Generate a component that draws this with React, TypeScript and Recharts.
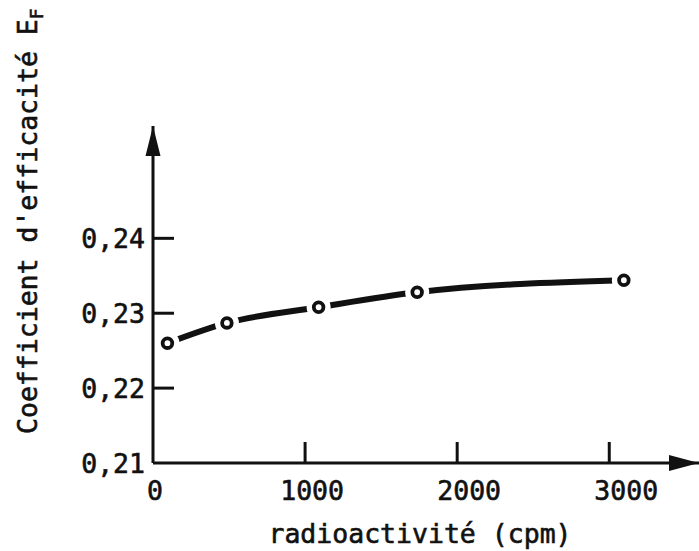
import React from 'react';
import {
  ComposedChart,
  Line,
  Scatter,
  XAxis,
  YAxis,
  ReferenceDot,
  Label,
} from 'recharts';

// values
const radioactivity = [95, 486, 1089, 1737, 3096];
const efficiency = [0.226, 0.2287, 0.2308, 0.2328, 0.2344];
const xTicks = [0, 1000, 2000, 3000];
const yTicks = [0.21, 0.22, 0.23, 0.24];
const xTitle = 'radioactivité (cpm)';
const yTitle = "Coefficient d'efficacité E";
const ySubscript = 'F';

const data = radioactivity.map((x, i) => ({ x, y: efficiency[i] }));

const FONT = '"DejaVu Sans Mono", monospace';
const INK = '#111';
const PAPER = 'rgb(255,255,255)';

const formatComma = (v: number) => v.toFixed(2).replace('.', ',');

const textStyle = {
  fontFamily: FONT,
  fontSize: 26.5,
  fill: INK,
  stroke: INK,
  strokeWidth: 0.6,
};

// ticks drawn inward, labels outside
const XTick = ({ x, y, payload }: any) => {
  const v = payload.value;
  return (
    <g>
      {v !== 0 && <line x1={x} y1={y} x2={x} y2={y - 21} stroke={INK} strokeWidth={3} />}
      <text x={x + 2 + v / 200} y={y + 37} textAnchor="middle" {...textStyle}>
        {v}
      </text>
    </g>
  );
};

const YTick = ({ x, y, payload }: any) => {
  const v = payload.value;
  return (
    <g>
      {v > 0.215 && <line x1={x} y1={y} x2={x + 21} y2={y} stroke={INK} strokeWidth={3} />}
      <text x={x - 8} y={y + 10} textAnchor="end" {...textStyle}>
        {formatComma(v)}
      </text>
    </g>
  );
};

// white halo leaves the gap seen around each circle in the original
function HollowDot(props: any) {
  const { cx, cy } = props;
  if (cx == null || cy == null) return null;
  return (
    <g>
      <circle cx={cx} cy={cy} r={12} style={{ fill: PAPER, stroke: 'none' }} />
      <circle cx={cx} cy={cy} r={4.8} style={{ fill: PAPER, stroke: INK, strokeWidth: 3.8 }} />
    </g>
  );
}

const RightArrow = ({ cx, cy }: any) => (
  <path d={`M${cx},${cy} L${cx - 30},${cy - 8} L${cx - 30},${cy + 8} Z`} fill={INK} />
);

const UpArrow = ({ cx, cy }: any) => (
  <path d={`M${cx},${cy} L${cx - 7.5},${cy + 30} L${cx + 7.5},${cy + 30} Z`} fill={INK} />
);

const XTitle = ({ viewBox }: any) => (
  <text x={viewBox.x + viewBox.width / 2 - 6} y={viewBox.y + 80} textAnchor="middle" {...textStyle}>
    {xTitle}
  </text>
);

const YTitle = ({ viewBox }: any) => {
  const tx = viewBox.x + viewBox.width - 116;
  const ty = viewBox.y + viewBox.height - 29;
  return (
    <text x={tx} y={ty} transform={`rotate(-90, ${tx}, ${ty})`} textAnchor="start" {...textStyle}>
      {yTitle}
      <tspan fontSize={18} dy={6}>{ySubscript}</tspan>
    </text>
  );
};

export default function App() {
  return (
    <div style={{ position: 'absolute', left: 0, top: 0, background: '#fff' }}>
      <ComposedChart
        width={699}
        height={551}
        data={data}
        margin={{ top: 126, right: 0, bottom: 87, left: 152 }}
      >
        <XAxis
          dataKey="x"
          type="number"
          domain={[0, 3590]}
          ticks={xTicks}
          height={1}
          tickSize={0}
          tickMargin={0}
          tickLine={false}
          axisLine={{ stroke: INK, strokeWidth: 3 }}
          tick={<XTick />}
          interval={0}
        >
          <Label content={<XTitle />} />
        </XAxis>
        <YAxis
          dataKey="y"
          type="number"
          domain={[0.21, 0.255]}
          ticks={yTicks}
          width={1}
          tickSize={0}
          tickMargin={0}
          tickLine={false}
          axisLine={{ stroke: INK, strokeWidth: 3 }}
          tick={<YTick />}
          interval={0}
          allowDataOverflow
        >
          <Label content={<YTitle />} />
        </YAxis>
        <ReferenceDot x={3590} y={0.21} ifOverflow="visible" shape={<RightArrow />} />
        <ReferenceDot x={0} y={0.255} ifOverflow="visible" shape={<UpArrow />} />
        <Line
          type="monotone"
          dataKey="y"
          stroke={INK}
          strokeWidth={6}
          strokeLinecap="round"
          dot={false}
          activeDot={false}
          isAnimationActive={false}
        />
        <Scatter dataKey="y" shape={HollowDot} isAnimationActive={false} />
      </ComposedChart>
    </div>
  );
}
